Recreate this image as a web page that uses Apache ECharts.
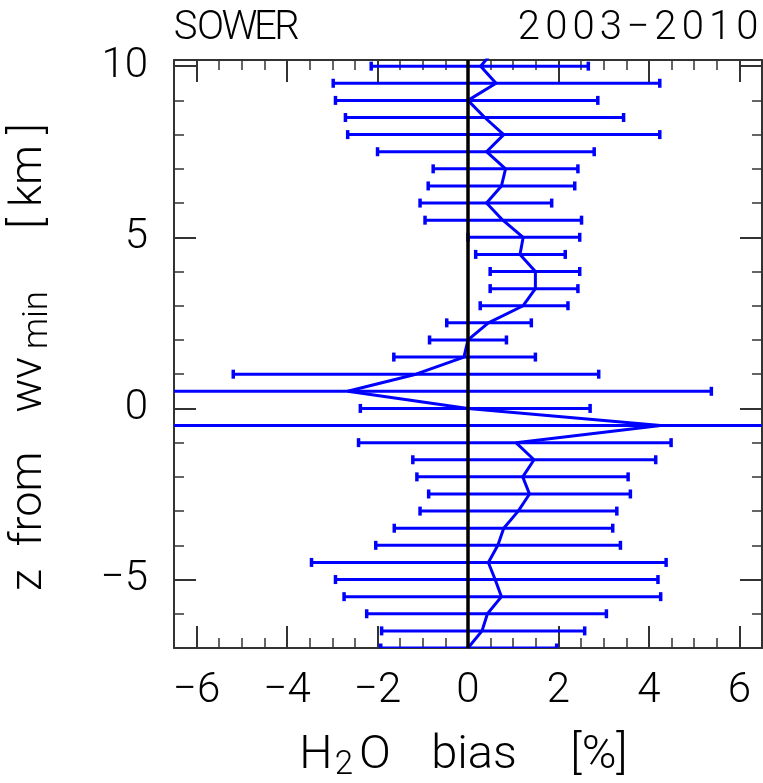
<!DOCTYPE html>
<html>
<head>
<meta charset="utf-8">
<script src="https://cdn.jsdelivr.net/npm/echarts@6/dist/echarts.min.js"></script>
<style>
html,body{margin:0;padding:0;background:#fff;}
#chart{width:763px;height:783px;}
</style>
</head>
<body>
<div id="chart"></div>
<script>
// Altitude levels (km from WV minimum)
const yLevels = [10.5, 10, 9.5, 9, 8.5, 8, 7.5, 7, 6.5, 6, 5.5, 5, 4.5, 4, 3.5, 3, 2.5, 2, 1.5, 1, 0.5, 0,
  -0.5, -1, -1.5, -2, -2.5, -3, -3.5, -4, -4.5, -5, -5.5, -6, -6.5, -7];
// Mean H2O bias [%]
const bias = [0.6, 0.28, 0.62, 0.0, 0.37, 0.79, 0.41, 0.83, 0.74, 0.41, 0.77, 1.22, 1.15, 1.49, 1.49, 1.22, 0.45, 0.0, -0.09, -1.15, -2.66, 0.0,
  4.26, 1.06, 1.46, 1.21, 1.36, 1.11, 0.79, 0.66, 0.45, 0.60, 0.74, 0.43, 0.31, 0.0];
// Error bar lower ends [%]
const lower = [-2.2, -2.14, -2.98, -2.93, -2.71, -2.66, -2.0, -0.77, -0.88, -1.06, -0.95, 0.0, 0.17, 0.49, 0.49, 0.27, -0.47, -0.85, -1.64, -5.19, -7.6, -2.38,
  -8.0, -2.42, -1.22, -1.13, -0.87, -1.06, -1.63, -2.04, -3.46, -2.93, -2.74, -2.24, -1.91, -1.93];
// Error bar upper ends [%]
const upper = [2.7, 2.66, 4.24, 2.87, 3.44, 4.24, 2.79, 2.43, 2.36, 1.85, 2.51, 2.47, 2.15, 2.47, 2.43, 2.21, 1.40, 0.85, 1.49, 2.89, 5.38, 2.70,
  8.5, 4.49, 4.15, 3.54, 3.59, 3.29, 3.20, 3.37, 4.38, 4.20, 4.26, 3.06, 2.58, 1.96];

const xMajorTicks = [-6, -4, -2, 0, 2, 4, 6];
const xMinorTicks = [-6.5, -6, -5.5, -5, -4.5, -4, -3.5, -3, -2.5, -2, -1.5, -1, -0.5, 0, 0.5, 1, 1.5, 2, 2.5, 3, 3.5, 4, 4.5, 5, 5.5, 6, 6.5];
const yMajorTicks = [-5, 0, 5, 10];
const yMinorTicks = [-7, -6, -5, -4, -3, -2, -1, 0, 1, 2, 3, 4, 5, 6, 7, 8, 9, 10];

const titleLeft = 'SOWER';
const titleRight = '2003\u22122010';

const X_MIN = -6.5, X_MAX = 6.5, Y_MIN = -7, Y_MAX = 10.18;
const FONT = 'Roboto';
const frameColor = '#333';
const fmt = v => (v < 0 ? '\u2212' + Math.abs(v) : String(v));

function xAx(pos, ticks, len, showLine, showLabel) {
  return {
    type: 'value', position: pos, min: X_MIN, max: X_MAX,
    axisLine: { show: showLine, onZero: false, lineStyle: { color: frameColor, width: 2 } },
    axisTick: { show: true, inside: true, length: len, customValues: ticks, lineStyle: { color: frameColor, width: len > 15 ? 2 : 1.5 } },
    axisLabel: { show: showLabel, customValues: xMajorTicks, formatter: fmt, margin: 22,
      fontFamily: FONT, fontWeight: 300, fontSize: 42, color: '#000' },
    splitLine: { show: false }
  };
}
function yAx(pos, ticks, len, showLine, showLabel) {
  return {
    type: 'value', position: pos, min: Y_MIN, max: Y_MAX,
    axisLine: { show: showLine, onZero: false, lineStyle: { color: frameColor, width: 2 } },
    axisTick: { show: true, inside: true, length: len, customValues: ticks, lineStyle: { color: frameColor, width: len > 15 ? 2 : 1.5 } },
    axisLabel: { show: showLabel, customValues: yMajorTicks, formatter: fmt, margin: 26,
      fontFamily: FONT, fontWeight: 300, fontSize: 42, color: '#000' },
    splitLine: { show: false }
  };
}

const base = { fontFamily: FONT, fontWeight: 300, fill: '#000' };
const leftWidths = [23, 27, 31, 21, 22];
const leftTitleRich = titleLeft.split('').map((c, i) => '{t' + i + '|' + c + '}').join('');
const leftRich = {};
leftWidths.forEach((w, i) => { leftRich['t' + i] = Object.assign({ fontSize: 40, width: w, align: 'center', lineHeight: 44 }, base); });
const rightTitleRich = titleRight.split('').map(c => '{d|' + c + '}').join('');

const chart = echarts.init(document.getElementById('chart'), null, { renderer: 'canvas' });
chart.setOption({
  animation: false,
  backgroundColor: '#fff',
  grid: { left: 174, right: 1, top: 60, bottom: 135, containLabel: false },
  xAxis: [
    xAx('bottom', xMajorTicks, 22, true, true),
    xAx('bottom', xMinorTicks, 10, false, false),
    xAx('top', xMajorTicks, 22, true, false),
    xAx('top', xMinorTicks, 10, false, false)
  ],
  yAxis: [
    yAx('left', yMajorTicks, 22, true, true),
    yAx('left', yMinorTicks, 10, false, false),
    yAx('right', yMajorTicks, 22, true, false),
    yAx('right', yMinorTicks, 10, false, false)
  ],
  graphic: [
    { type: 'text', x: 174, y: 29, style: { text: leftTitleRich, align: 'left', verticalAlign: 'middle', rich: leftRich } },
    { type: 'text', x: 761, y: 29, style: {
        text: rightTitleRich, align: 'right', verticalAlign: 'middle',
        rich: { d: Object.assign({ fontSize: 40, width: 27.3, align: 'center', lineHeight: 44 }, base) } } },
    { type: 'text', x: 472, y: 756, style: {
        text: '{h|H}{s|2}{o|O}{b|bias}{p|[%]}', align: 'center', verticalAlign: 'middle',
        rich: {
          h: Object.assign({ fontSize: 47, lineHeight: 52, width: 32, align: 'center', verticalAlign: 'middle' }, base),
          s: Object.assign({ fontSize: 33, lineHeight: 25, width: 24, align: 'center', verticalAlign: 'bottom' }, base),
          o: Object.assign({ fontSize: 47, lineHeight: 52, width: 38, align: 'center', verticalAlign: 'middle' }, base),
          b: Object.assign({ fontSize: 47, lineHeight: 52, width: 160, align: 'center', verticalAlign: 'middle' }, base),
          p: Object.assign({ fontSize: 47, lineHeight: 52, width: 90, align: 'center', verticalAlign: 'middle' }, base)
        } } },
    { type: 'text', x: 30, y: 322, rotation: Math.PI / 2, style: {
        text: '{z|z}{f|from}{w|wv}{s|min}{k|[ km ]}', align: 'center', verticalAlign: 'middle',
        rich: {
          z: Object.assign({ fontSize: 45, lineHeight: 52, width: 50, align: 'center', verticalAlign: 'middle' }, base),
          f: Object.assign({ fontSize: 45, lineHeight: 52, width: 112, align: 'center', verticalAlign: 'middle' }, base),
          w: Object.assign({ fontSize: 45, lineHeight: 52, width: 116, align: 'center', verticalAlign: 'middle' }, base),
          s: Object.assign({ fontSize: 35, lineHeight: 27, width: 14, align: 'center', verticalAlign: 'bottom' }, base),
          k: Object.assign({ fontSize: 45, lineHeight: 52, width: 274, align: 'center', verticalAlign: 'middle' }, base)
        } } }
  ],
  series: [
    {
      type: 'custom', name: 'errors', xAxisIndex: 0, yAxisIndex: 0, clip: true, z: 2,
      data: yLevels.map((y, i) => [lower[i], upper[i], y]),
      encode: { x: [0, 1], y: 2 },
      renderItem: function (params, api) {
        const p1 = api.coord([api.value(0), api.value(2)]);
        const p2 = api.coord([api.value(1), api.value(2)]);
        const st = { stroke: '#0000ff', lineWidth: 3 };
        const cap = { stroke: '#0000ff', lineWidth: 3.5 };
        return { type: 'group', children: [
          { type: 'line', shape: { x1: p1[0], y1: p1[1], x2: p2[0], y2: p2[1] }, style: st },
          { type: 'line', shape: { x1: p1[0], y1: p1[1] - 4.5, x2: p1[0], y2: p1[1] + 4.5 }, style: cap },
          { type: 'line', shape: { x1: p2[0], y1: p2[1] - 4.5, x2: p2[0], y2: p2[1] + 4.5 }, style: cap }
        ] };
      }
    },
    {
      type: 'line', name: 'bias', xAxisIndex: 0, yAxisIndex: 0, clip: true, z: 3,
      data: yLevels.map((y, i) => [bias[i], y]),
      symbol: 'none', lineStyle: { color: '#0000ff', width: 3 }
    },
    {
      type: 'line', name: 'zero', xAxisIndex: 0, yAxisIndex: 0, clip: true, z: 4,
      data: [[0, Y_MIN], [0, Y_MAX]],
      symbol: 'none', lineStyle: { color: '#000', width: 3.5 }
    }
  ]
});
</script>
</body>
</html>
